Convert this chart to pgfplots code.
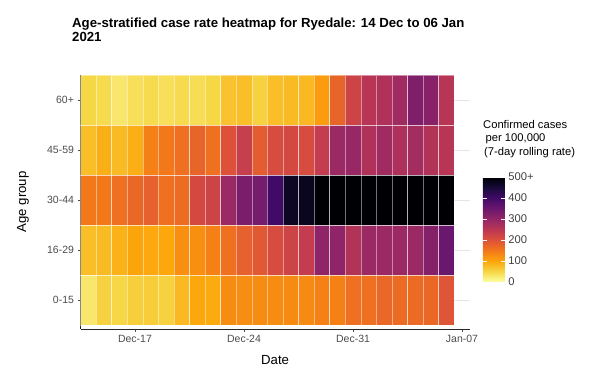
\documentclass[border=0pt]{standalone}
\usepackage{pgfplots}
\pgfplotsset{compat=1.18}
\usepackage{fontspec}
\setmainfont{Liberation Sans}

\pgfplotsset{
  colormap={infr}{rgb255=(252,255,164) rgb255=(246,215,70) rgb255=(252,165,10)
    rgb255=(243,120,25) rgb255=(221,81,58) rgb255=(188,55,84) rgb255=(147,38,103)
    rgb255=(106,23,110) rgb255=(66,10,104) rgb255=(22,11,57) rgb255=(0,0,4)}
}
% one tile = 1 day x 1 age group (15.572pt x 50pt on this axis)
\pgfdeclareplotmark{tile}{%
  \pgfpathrectangle{\pgfpoint{-7.786pt}{-25pt}}{\pgfpoint{15.572pt}{50pt}}%
  \pgfusepathqfillstroke}

\begin{document}
\begin{tikzpicture}[x=1pt,y=1pt]
\path[use as bounding box] (0,0) rectangle (589,372);
% title
\node[anchor=base west, font=\bfseries\fontsize{13.2}{15}\selectfont, inner sep=0pt]
  at (72,344) {Age-stratified case rate heatmap for Ryedale: 14 Dec to 06 Jan};
\node[anchor=base west, font=\bfseries\fontsize{13.2}{15}\selectfont, inner sep=0pt]
  at (72,330) {2021};
% legend title
\node[anchor=north west, align=left, inner sep=0pt, font=\fontsize{11.2}{13.5}\selectfont]
  at (483,252) {Confirmed cases\\\hspace*{2.5pt}per 100,000\\\hspace*{1pt}(7-day rolling rate)};

\begin{axis}[
  at={(80.5pt,43pt)}, anchor=south west, scale only axis,
  width=389.3pt, height=254pt,
  xmin=-0.5, xmax=24.5, ymin=-0.58, ymax=4.5,
  axis x line*=bottom, axis y line*=left,
  axis line style={-, black!85, line width=0.8pt},
  tick align=outside, major tick length=3pt,
  tick style={black!70, line width=0.7pt},
  xtick={3,10,17,24}, xticklabels={Dec-17,Dec-24,Dec-31,Jan-07},
  ytick={0,1,2,3,4}, yticklabels={0-15,16-29,30-44,45-59,60+},
  ticklabel style={font=\fontsize{10.5}{12}\selectfont, text=black!70},
  ymajorgrids, grid style={black!10, line width=0.6pt},
  xlabel={Date}, ylabel={Age group},
  label style={font=\fontsize{13.2}{14}\selectfont},
  xlabel style={at={(axis description cs:0.5,0)}, anchor=center, yshift=-31pt},
  ylabel style={at={(axis description cs:-0.148,0.5)}, anchor=center},
  colormap name=infr,
  point meta min=0, point meta max=500,
  colorbar, colorbar/width=22pt,
  colorbar style={
    at={(parent axis.south east)}, anchor=south west, xshift=4.5pt, yshift=47pt,
    scale only axis, width=22pt, height=105pt,
    ytick={0,100,200,300,400,500}, yticklabels={0,100,200,300,400,500+},
    yticklabel pos=right, ytick pos=both,
    tick align=inside, major tick length=4pt,
    tick style={white, line width=0.6pt},
    axis line style={draw=none},
    yticklabel style={font=\fontsize{11.2}{12}\selectfont, text=black!75},
  },
]
% x = days since 14 Dec, y = age group (0 = 0-15 ... 4 = 60+), c = rate
\addplot[scatter, only marks, mark=tile, point meta=explicit,
  scatter/use mapped color={draw=white, fill=mapped color},
  mark options={line width=0.4pt, draw opacity=0.45}]
  table[row sep=\\, meta=c] {
x y c\\
0 0 30\\ 1 0 55\\ 2 0 50\\ 3 0 58\\ 4 0 60\\ 5 0 55\\ 6 0 80\\ 7 0 98\\
8 0 95\\ 9 0 128\\ 10 0 127\\ 11 0 128\\ 12 0 128\\ 13 0 130\\ 14 0 130\\ 15 0 140\\
16 0 140\\ 17 0 160\\ 18 0 160\\ 19 0 172\\ 20 0 167\\ 21 0 167\\ 22 0 170\\ 23 0 195\\
0 1 75\\ 1 1 78\\ 2 1 88\\ 3 1 100\\ 4 1 97\\ 5 1 98\\ 6 1 125\\ 7 1 125\\
8 1 140\\ 9 1 160\\ 10 1 180\\ 11 1 190\\ 12 1 210\\ 13 1 225\\ 14 1 240\\ 15 1 305\\
16 1 305\\ 17 1 262\\ 18 1 290\\ 19 1 290\\ 20 1 290\\ 21 1 292\\ 22 1 318\\ 23 1 350\\
0 2 150\\ 1 2 150\\ 2 2 160\\ 3 2 170\\ 4 2 180\\ 5 2 160\\ 6 2 165\\ 7 2 215\\
8 2 225\\ 9 2 290\\ 10 2 330\\ 11 2 335\\ 12 2 400\\ 13 2 470\\ 14 2 475\\ 15 2 500\\
16 2 500\\ 17 2 500\\ 18 2 500\\ 19 2 500\\ 20 2 500\\ 21 2 500\\ 22 2 500\\ 23 2 500\\
0 3 75\\ 1 3 90\\ 2 3 78\\ 3 3 90\\ 4 3 140\\ 5 3 150\\ 6 3 160\\ 7 3 175\\
8 3 160\\ 9 3 200\\ 10 3 235\\ 11 3 185\\ 12 3 210\\ 13 3 215\\ 14 3 210\\ 15 3 240\\
16 3 290\\ 17 3 295\\ 18 3 265\\ 19 3 285\\ 20 3 268\\ 21 3 280\\ 22 3 262\\ 23 3 255\\
0 4 50\\ 1 4 45\\ 2 4 30\\ 3 4 40\\ 4 4 45\\ 5 4 40\\ 6 4 45\\ 7 4 42\\
8 4 50\\ 9 4 70\\ 10 4 75\\ 11 4 55\\ 12 4 75\\ 13 4 78\\ 14 4 80\\ 15 4 110\\
16 4 175\\ 17 4 225\\ 18 4 255\\ 19 4 265\\ 20 4 285\\ 21 4 325\\ 22 4 315\\ 23 4 255\\
};
\end{axis}
\end{tikzpicture}
\end{document}
